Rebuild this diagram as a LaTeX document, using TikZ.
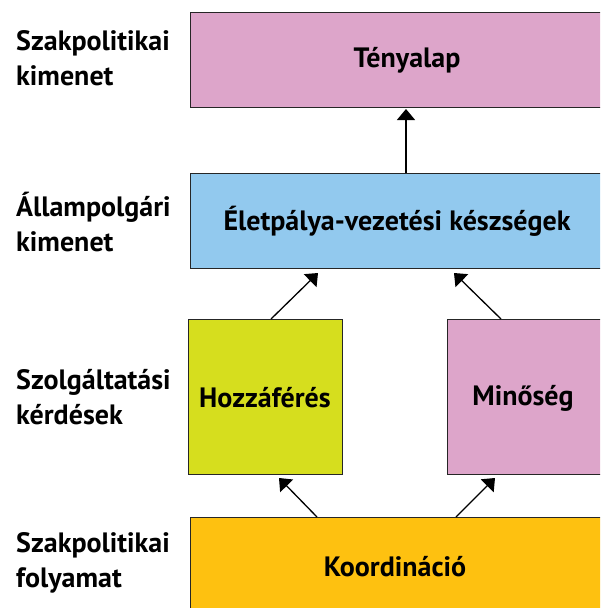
\documentclass[tikz,border=0pt]{standalone}
\usepackage{fontspec}
\setmainfont{PT Sans}
\usetikzlibrary{arrows.meta}
\definecolor{cpink}{RGB}{221,165,202}
\definecolor{cblue}{RGB}{146,201,238}
\definecolor{cyel}{RGB}{214,222,30}
\definecolor{corange}{RGB}{254,193,16}
\tikzset{
  box/.style={draw=black!85, line width=1.1pt, anchor=north west, inner sep=0pt},
  txt/.style={font=\bfseries\fontsize{28}{32}\selectfont, inner sep=0pt},
  lbl/.style={anchor=west, align=left, font=\bfseries\fontsize{28}{35}\selectfont, inner sep=0pt},
  arr/.style={line width=1.3pt, -{Triangle[width=18pt,length=11pt]}},
  x=1pt, y=-1pt
}
\begin{document}
\begin{tikzpicture}
\useasboundingbox (0,0) rectangle (600,608);
\clip (0,0) rectangle (600,608);
\node[box, fill=cpink, minimum width=420pt, minimum height=95pt] (ten) at (190,12) {};
\node[txt] (tent) at (407,60) {Tényalap};
\node[box, fill=cblue, minimum width=420pt, minimum height=95pt] (elet) at (190,173) {};
\node[txt] (elett) at (397,221) {Életpálya-vezetési készségek};
\node[box, fill=cyel, minimum width=154pt, minimum height=155pt] (hoz) at (188,319) {};
\node[txt] (hozt) at (265,398) {Hozzáférés};
\node[box, fill=cpink, minimum width=170pt, minimum height=155pt] (min) at (447,319) {};
\node[txt] (mint) at (523,398) {Minőség};
\node[box, fill=corange, minimum width=420pt, minimum height=110pt] (koo) at (190,517) {};
\node[txt] (koot) at (395,567) {Koordináció};

\node[lbl] (l1) at (16,58) {Szakpolitikai\\kimenet};
\node[lbl] (l2) at (16,222) {Állampolgári\\kimenet};
\node[lbl] (l3) at (16,397) {Szolgáltatási\\kérdések};
\node[lbl] (l4) at (16,563) {Szakpolitikai\\folyamat};

\coordinate (a1s) at (elet.north -| 406,0);
\coordinate (a1e) at (406,109);
\draw[arr] (a1s) -- (a1e);
\draw[arr] (hoz.north -| 271,0) -- (318,273);
\draw[arr] (min.north -| 501,0) -- (454,273);
\draw[arr] (koo.north -| 317,0) -- (279,478);
\draw[arr] (koo.north -| 456,0) -- (495,478);
\end{tikzpicture}
\end{document}
